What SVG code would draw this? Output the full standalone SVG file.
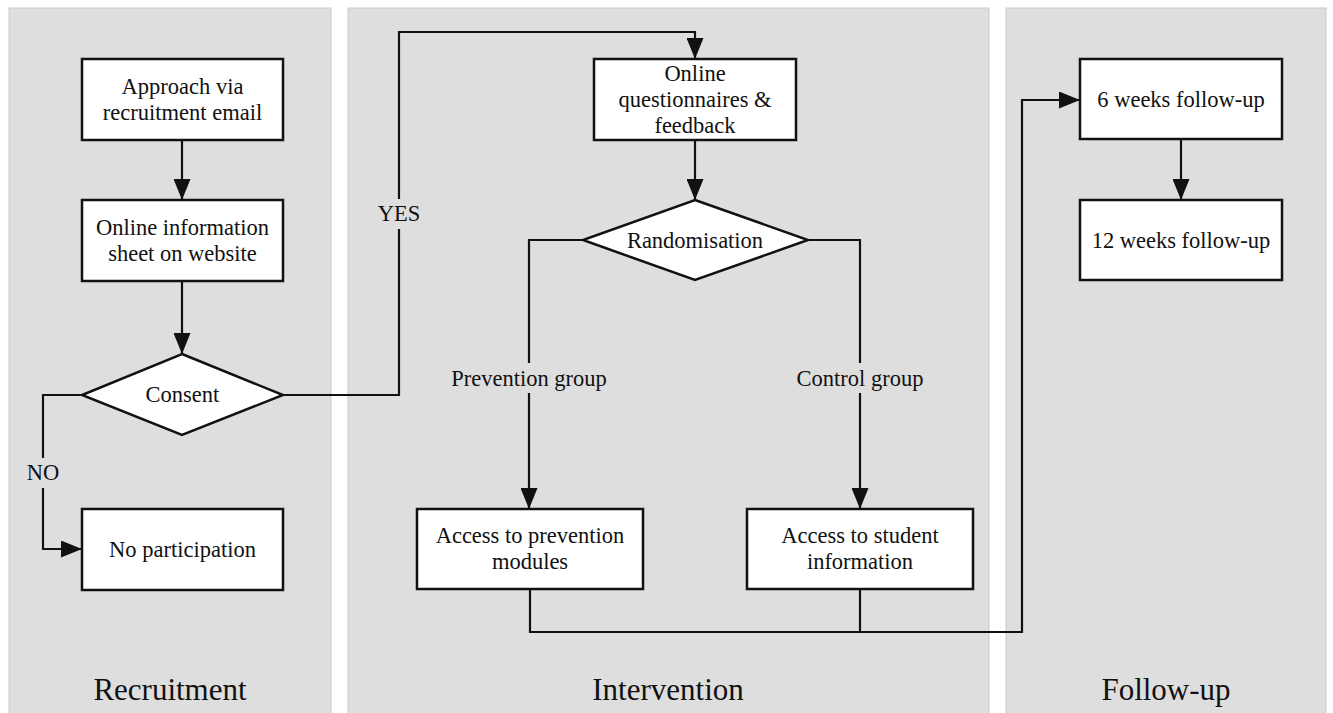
<svg xmlns="http://www.w3.org/2000/svg" width="1333" height="713" viewBox="0 0 1333 713">
<style>
.panel{fill:#dedede;stroke:#c9c9c9;stroke-width:1}
.box{fill:#fff;stroke:#111;stroke-width:2.5}
.t{font-family:"Liberation Serif","Times New Roman",serif;font-size:22.5px;fill:#111;text-anchor:middle}
.title{font-family:"Liberation Serif","Times New Roman",serif;font-size:31px;fill:#111;text-anchor:middle}
.c{fill:none;stroke:#111;stroke-width:2.2}
</style>
<defs>
<marker id="arr" markerUnits="userSpaceOnUse" markerWidth="21" markerHeight="17" viewBox="0 0 21 17" refX="21" refY="8.5" orient="auto">
<path d="M0,0 L21,8.5 L0,17 Z" fill="#111"/>
</marker>
</defs>
<rect width="1333" height="713" fill="#fff"/>
<g id="panels">
<rect class="panel" x="9" y="8" width="322" height="710"/>
<rect class="panel" x="348" y="8" width="641" height="710"/>
<rect class="panel" x="1006" y="8" width="320" height="710"/>
<text class="title" x="170" y="700">Recruitment</text>
<text class="title" x="668" y="700">Intervention</text>
<text class="title" x="1166" y="700">Follow-up</text>
</g>
<g id="connectors">
<path class="c" d="M182,140 V200" marker-end="url(#arr)"/>
<path class="c" d="M182,281 V354" marker-end="url(#arr)"/>
<path class="c" d="M283,395 H399 V229 M399,199 V32 H695 V59" marker-end="url(#arr)"/>
<path class="c" d="M82,395 H43 V458 M43,488 V549 H82" marker-end="url(#arr)"/>
<path class="c" d="M695,140 V200" marker-end="url(#arr)"/>
<path class="c" d="M583,240 H529 V363 M529,393 V509" marker-end="url(#arr)"/>
<path class="c" d="M808,240 H860 V363 M860,393 V509" marker-end="url(#arr)"/>
<path class="c" d="M860,589 V632"/>
<path class="c" d="M530,589 V632 H1022 V100 H1080" marker-end="url(#arr)"/>
<path class="c" d="M1181,139 V200" marker-end="url(#arr)"/>
<text class="t" x="43" y="480">NO</text>
<text class="t" x="399" y="221">YES</text>
<text class="t" x="529" y="386">Prevention group</text>
<text class="t" x="860" y="386">Control group</text>
</g>
<g id="approach">
<rect class="box" x="82" y="59" width="201" height="81"/>
<text class="t" x="182.5" y="94">Approach via</text>
<text class="t" x="182.5" y="120">recruitment email</text>
</g>
<g id="info">
<rect class="box" x="82" y="200" width="201" height="81"/>
<text class="t" x="182.5" y="235">Online information</text>
<text class="t" x="182.5" y="261">sheet on website</text>
</g>
<g id="consent">
<polygon class="box" points="182,354 283,395 182,435 82,395"/>
<text class="t" x="182.5" y="402">Consent</text>
</g>
<g id="noparticipation">
<rect class="box" x="82" y="509" width="201" height="81"/>
<text class="t" x="182.5" y="557">No participation</text>
</g>
<g id="questionnaires">
<rect class="box" x="594" y="59" width="202" height="81"/>
<text class="t" x="695" y="81">Online</text>
<text class="t" x="695" y="107">questionnaires &amp;</text>
<text class="t" x="695" y="133">feedback</text>
</g>
<g id="randomisation">
<polygon class="box" points="695,200 808,240 695,280 583,240"/>
<text class="t" x="695" y="248">Randomisation</text>
</g>
<g id="prevention">
<rect class="box" x="417" y="509" width="226" height="80"/>
<text class="t" x="530" y="543">Access to prevention</text>
<text class="t" x="530" y="569">modules</text>
</g>
<g id="control">
<rect class="box" x="747" y="509" width="226" height="80"/>
<text class="t" x="860" y="543">Access to student</text>
<text class="t" x="860" y="569">information</text>
</g>
<g id="week6">
<rect class="box" x="1080" y="59" width="202" height="80"/>
<text class="t" x="1181" y="107">6 weeks follow-up</text>
</g>
<g id="week12">
<rect class="box" x="1080" y="200" width="202" height="80"/>
<text class="t" x="1181" y="248">12 weeks follow-up</text>
</g>
</svg>
